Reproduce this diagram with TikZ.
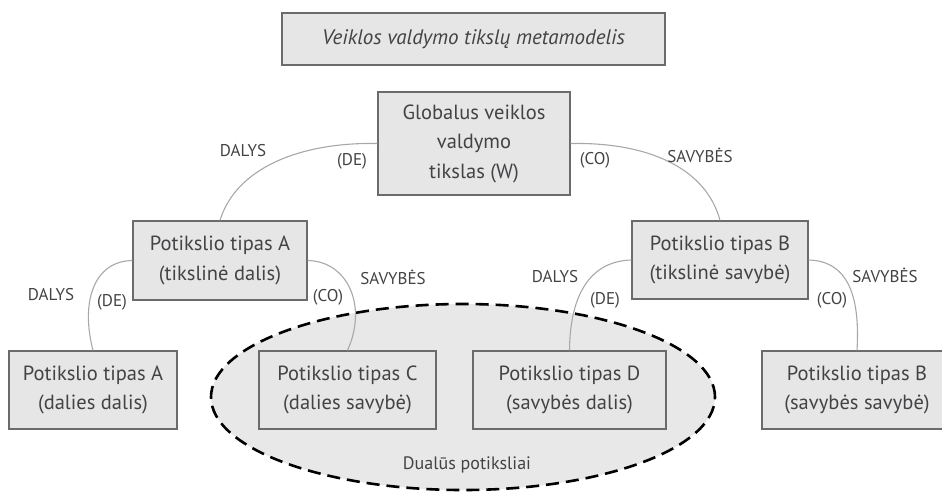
\documentclass[tikz,border=0pt]{standalone}
\usepackage{fontspec}
\setmainfont{PT Sans}
\usetikzlibrary{shapes.geometric}
\definecolor{boxfill}{HTML}{E6E6E7}
\definecolor{boxline}{HTML}{6B6B6B}
\definecolor{txt}{HTML}{434345}
\definecolor{link}{HTML}{A8A8A8}
\definecolor{dualfill}{HTML}{E8E8E9}
\tikzset{
  box/.style={draw=boxline, fill=boxfill, line width=1.2pt, text=txt,
    align=center, inner sep=0pt, font=\fontsize{20.5}{29.5}\selectfont},
  rel/.style={text=txt, font=\fontsize{17}{20}\selectfont},
  link/.style={draw=link, line width=1.1pt},
}
\begin{document}
\begin{tikzpicture}[x=1pt,y=-1pt]
\path[use as bounding box] (0,0) rectangle (942,491);
\clip (0,0) rectangle (942,491);

% group of dual sub-goals
\node[ellipse, draw=black, fill=dualfill, line width=2.6pt,
      dash pattern=on 13pt off 7pt, minimum width=504pt, minimum height=186pt,
      inner sep=0pt] (dual) at (463,397) {};
\node[text=txt, font=\fontsize{18}{22}\selectfont] (duallbl) at (467,465) {Dualūs potiksliai};

% title
\node[box, minimum width=383pt, minimum height=52pt,
      font=\itshape\fontsize{21}{26}\selectfont] (title) at (473.5,39)
  {Veiklos valdymo tikslų metamodelis};

% goal boxes
\node[box, minimum width=192pt, minimum height=103pt] (G) at (474,143.5)
  {Globalus veiklos\\valdymo\\tikslas (W)};
\node[box, minimum width=174pt, minimum height=79pt] (A) at (220,260.5)
  {Potikslio tipas A\\(tikslinė dalis)};
\node[box, minimum width=176pt, minimum height=78pt] (B) at (720,260)
  {Potikslio tipas B\\(tikslinė savybė)};
\node[box, minimum width=168pt, minimum height=78pt] (AA) at (93,390)
  {Potikslio tipas A\\(dalies dalis)};
\node[box, minimum width=177pt, minimum height=78pt] (C) at (347.5,390)
  {Potikslio tipas C\\(dalies savybė)};
\node[box, minimum width=193pt, minimum height=78pt] (D) at (569.5,390)
  {Potikslio tipas D\\(savybės dalis)};
\node[box, minimum width=190pt, minimum height=78pt] (BB) at (857,390)
  {Potikslio tipas B\\(savybės savybė)};

% connectors
\draw[link] (G.west) .. controls (300,142) and (236,168) .. (A.north);
\draw[link] (G.east) .. controls (648,142) and (706,168) .. (B.north);
\draw[link] (A.west) .. controls (95,261) and (80,300) .. (AA.north);
\draw[link] (A.east) .. controls (347,261) and (368,305) .. (C.north);
\draw[link] (B.west) .. controls (592,261) and (570,292) .. (D.north);
\draw[link] (B.east) .. controls (850,261) and (860,300) .. (BB.north);

% relation labels
\node[rel] (l1) at (243,151) {DALYS};
\node[rel] (l2) at (352,161) {(DE)};
\node[rel] (l3) at (595,160) {(CO)};
\node[rel] (l4) at (700,155) {SAVYBĖS};
\node[rel] (l5) at (51,295) {DALYS};
\node[rel] (l6) at (112,302) {(DE)};
\node[rel] (l7) at (328,297) {(CO)};
\node[rel] (l8) at (393,277) {SAVYBĖS};
\node[rel] (l9) at (555,277) {DALYS};
\node[rel] (l10) at (605,300) {(DE)};
\node[rel] (l11) at (832,300) {(CO)};
\node[rel] (l12) at (885,275) {SAVYBĖS};
\end{tikzpicture}
\end{document}
